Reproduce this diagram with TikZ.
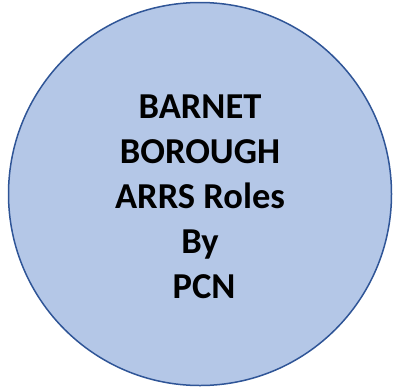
\documentclass[tikz,border=0pt]{standalone}
\usepackage{fontspec}
\setmainfont{Carlito}
\usepackage{xcolor}
\usepackage{tikz}
\usetikzlibrary{positioning}
\definecolor{pcnfill}{HTML}{B4C7E7}
\definecolor{pcnline}{HTML}{2F5597}

\begin{document}
\begin{tikzpicture}[
    x=1pt,y=1pt,
    roundbox/.style={circle,draw=pcnline,fill=pcnfill,line width=1.5pt,minimum size=383pt,inner sep=0pt},
    title/.style={align=center,font=\fontsize{36.5}{45}\selectfont\bfseries}
]
    \useasboundingbox (0,0) rectangle (393,-389);
    \node[roundbox] (circ) at (200,-194) {};
    \node[title] (label) at (200,-197) {BARNET\\BOROUGH\\ARRS Roles\\By\\\ PCN};
\end{tikzpicture}
\end{document}
